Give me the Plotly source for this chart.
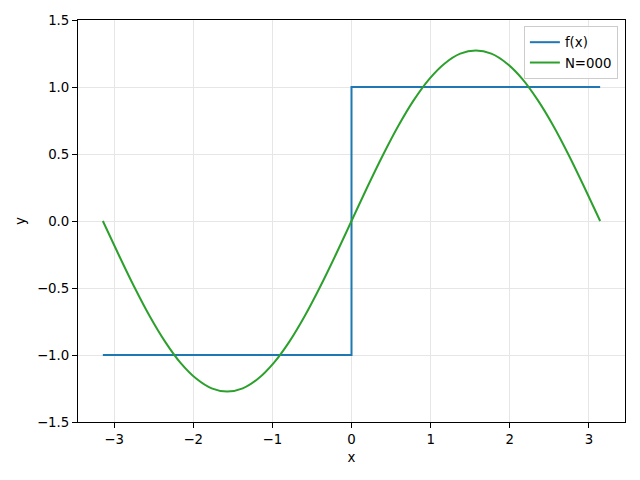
import plotly.graph_objects as go

# Square wave f(x)
fx_x = [-3.142, 0.0, 0.0, 3.142]
fx_y = [-1.0, -1.0, 1.0, 1.0]

# First partial sum
n_x = [-3.142, -2.945, -2.749, -2.553, -2.356, -2.160, -1.963, -1.767,
       -1.571, -1.374, -1.178, -0.982, -0.785, -0.589, -0.393, -0.196,
       0.0, 0.196, 0.393, 0.589, 0.785, 0.982, 1.178, 1.374,
       1.571, 1.767, 1.963, 2.160, 2.356, 2.553, 2.749, 2.945, 3.142]
n_y = [0.0, -0.248, -0.487, -0.707, -0.900, -1.059, -1.176, -1.249,
       -1.273, -1.249, -1.176, -1.059, -0.900, -0.707, -0.487, -0.248,
       0.0, 0.248, 0.487, 0.707, 0.900, 1.059, 1.176, 1.249,
       1.273, 1.249, 1.176, 1.059, 0.900, 0.707, 0.487, 0.248, 0.0]

x_ticks = [-3, -2, -1, 0, 1, 2, 3]
y_ticks = [-1.5, -1.0, -0.5, 0.0, 0.5, 1.0, 1.5]

font = dict(family="DejaVu Sans", size=13.33, color="black")

fig = go.Figure()
fig.add_trace(go.Scatter(x=fx_x, y=fx_y, mode="lines", name="f(x)",
                         line=dict(color="#1f77b4", width=2)))
fig.add_trace(go.Scatter(x=n_x, y=n_y, mode="lines", name="N=000",
                         line=dict(color="#2ca02c", width=2, shape="spline",
                                   smoothing=1.0)))

axis_common = dict(
    showline=True, linecolor="black", linewidth=1, mirror=True,
    ticks="outside", ticklen=5, tickwidth=1, tickcolor="black",
    showgrid=True, gridcolor="#e6e6e6", gridwidth=1,
    zeroline=False, tickfont=font, automargin=False,
)

fig.update_layout(
    width=640, height=480,
    margin=dict(l=70, r=23, t=12, b=66),
    paper_bgcolor="white", plot_bgcolor="white",
    font=font,
    xaxis=dict(range=[-3.456, 3.456], tickvals=x_ticks,
               title=dict(text="x", font=font, standoff=6), **axis_common),
    yaxis=dict(range=[-1.5, 1.5], tickvals=y_ticks, tickformat=".1f",
               title=dict(text="y", font=font, standoff=8), **axis_common),
    legend=dict(x=0.987, y=0.985, xanchor="right", yanchor="top",
                bgcolor="rgba(255,255,255,0.8)", bordercolor="#cccccc",
                borderwidth=1, font=font, itemwidth=30,
                tracegroupgap=0),
    showlegend=True,
)

fig.write_html("out.html")
